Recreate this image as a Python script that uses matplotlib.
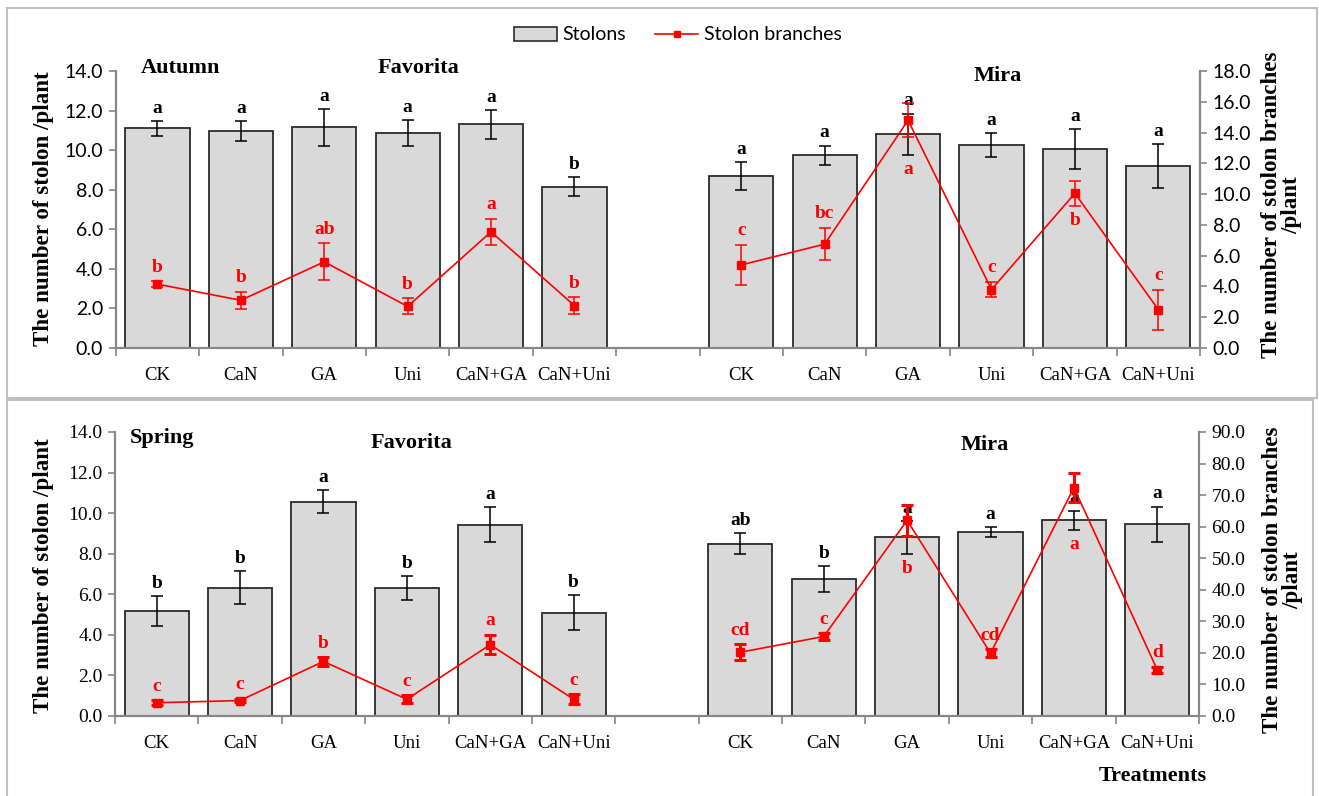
import numpy as np
import matplotlib
matplotlib.use("Agg")
import matplotlib.pyplot as plt
from matplotlib.patches import Patch, Rectangle
from matplotlib.lines import Line2D
from matplotlib.ticker import FormatStrFormatter, FixedLocator

# ---------------- data ----------------
treatments = ['CK', 'CaN', 'GA', 'Uni', 'CaN+GA', 'CaN+Uni']

# Autumn season
autumn_fav_stolons = [11.1, 10.95, 11.15, 10.85, 11.3, 8.15]
autumn_fav_stolons_se = [0.36, 0.5, 0.93, 0.65, 0.74, 0.49]
autumn_fav_stolons_lbl = ['a', 'a', 'a', 'a', 'a', 'b']
autumn_mira_stolons = [8.7, 9.75, 10.8, 10.25, 10.05, 9.2]
autumn_mira_stolons_se = [0.7, 0.48, 1.05, 0.6, 1.0, 1.12]
autumn_mira_stolons_lbl = ['a', 'a', 'a', 'a', 'a', 'a']

autumn_fav_branches = [4.15, 3.1, 5.6, 2.7, 7.55, 2.75]
autumn_fav_branches_se = [0.2, 0.56, 1.2, 0.52, 0.84, 0.54]
autumn_fav_branches_lbl = ['b', 'b', 'ab', 'b', 'a', 'b']
autumn_mira_branches = [5.4, 6.75, 14.8, 3.8, 10.05, 2.5]
autumn_mira_branches_se = [1.3, 1.05, 1.1, 0.5, 0.83, 1.3]
autumn_mira_branches_lbl = ['c', 'bc', 'a', 'c', 'b', 'c']

# Spring season
spring_fav_stolons = [5.17, 6.32, 10.56, 6.32, 9.44, 5.1]
spring_fav_stolons_se = [0.73, 0.81, 0.57, 0.58, 0.84, 0.86]
spring_fav_stolons_lbl = ['b', 'b', 'a', 'b', 'a', 'b']
spring_mira_stolons = [8.5, 6.75, 8.8, 9.05, 9.65, 9.45]
spring_mira_stolons_se = [0.53, 0.66, 0.82, 0.25, 0.48, 0.87]
spring_mira_stolons_lbl = ['ab', 'b', 'a', 'a', 'a', 'a']

spring_fav_branches = [4.2, 4.9, 17.3, 5.3, 22.6, 5.3]
spring_fav_branches_se = [0.75, 0.5, 1.3, 1.3, 3.1, 1.6]
spring_fav_branches_lbl = ['c', 'c', 'b', 'c', 'a', 'c']
spring_mira_branches = [20.2, 25.2, 62.0, 19.9, 72.4, 14.6]
spring_mira_branches_se = [2.5, 1.05, 5.0, 1.2, 4.65, 1.05]
spring_mira_branches_lbl = ['cd', 'c', 'b', 'cd', 'a', 'd']

# where the letter of each branch point goes (above / below the marker)
autumn_mira_side = ['up', 'up', 'down', 'up', 'down', 'up']
spring_mira_side = ['up', 'up', 'down', 'up', 'down', 'up']
fav_side = ['up'] * 6

SERIF = 'Liberation Serif'
SANS = 'Lato'
BAR_COLOR = '#d9d9d9'
BAR_EDGE = '#2b2b2b'
SPINE = '#868686'
RED = '#ff0000'

fig = plt.figure(figsize=(13.19, 7.96), dpi=100)
W, H = 1319.0, 796.0


def px(x, y):
    return x / W, 1 - y / H


def draw_panel(ax, left_max, right_max, right_step, tick_font, line_w,
               fav_bars, fav_bars_se, fav_bars_lbl, mira_bars, mira_bars_se, mira_bars_lbl,
               fav_line, fav_line_se, fav_line_lbl, mira_line, mira_line_se, mira_line_lbl,
               mira_side):
    ax2 = ax.twinx()
    ax.set_zorder(1)
    ax2.set_zorder(2)
    ax.patch.set_visible(False)
    ratio = right_max / left_max

    groups = [
        (np.arange(6), fav_bars, fav_bars_se, fav_bars_lbl, fav_line, fav_line_se, fav_line_lbl, fav_side),
        (np.arange(6) + 7, mira_bars, mira_bars_se, mira_bars_lbl, mira_line, mira_line_se, mira_line_lbl, mira_side),
    ]
    for xs, bars, bse, blbl, line, lse, llbl, side in groups:
        ax.bar(xs, bars, width=0.77, color=BAR_COLOR, edgecolor=BAR_EDGE, linewidth=1.3, zorder=2)
        ax.errorbar(xs, bars, yerr=bse, fmt='none', ecolor='black', elinewidth=1.1,
                    capsize=4, capthick=1.1, zorder=3)
        for x, v, e, t in zip(xs, bars, bse, blbl):
            ax.annotate(t, (x, v + e), xytext=(0, 3), textcoords='offset points',
                        ha='center', va='bottom', fontsize=14, fontweight='bold',
                        family=SERIF, color='black', zorder=5)

        ax2.errorbar(xs, line, yerr=lse, color=RED, linewidth=1.2, marker='s', markersize=5.5,
                     ecolor=RED, elinewidth=line_w, capsize=4, capthick=line_w, zorder=4)
        for x, v, e, t, s, b, be in zip(xs, line, lse, llbl, side, bars, bse):
            if s == 'up':
                ax2.annotate(t, (x, v + e), xytext=(0, 4), textcoords='offset points',
                             ha='center', va='bottom', fontsize=14, fontweight='bold',
                             family=SERIF, color=RED, zorder=5)
            else:
                # keep the letter clear of the bar's own error bar
                anchor = min(v - e, (b - be) * ratio)
                ax2.annotate(t, (x, anchor), xytext=(0, -4), textcoords='offset points',
                             ha='center', va='top', fontsize=14, fontweight='bold',
                             family=SERIF, color=RED, zorder=5)

    ax.set_xlim(-0.5, 12.5)
    ax.set_ylim(0, left_max)
    ax2.set_ylim(0, right_max)
    ax.set_yticks(np.arange(0, left_max + 0.1, 2))
    ax2.set_yticks(np.arange(0, right_max + 0.1, right_step))
    ax.yaxis.set_major_formatter(FormatStrFormatter('%.1f'))
    ax2.yaxis.set_major_formatter(FormatStrFormatter('%.1f'))

    # category boundaries carry the ticks, names sit in between
    ax.xaxis.set_major_locator(FixedLocator(np.arange(-0.5, 13, 1)))
    ax.xaxis.set_major_formatter(plt.NullFormatter())
    centers = list(range(6)) + list(range(7, 13))
    ax.xaxis.set_minor_locator(FixedLocator(centers))
    ax.set_xticklabels(treatments + treatments, minor=True)
    ax.tick_params(axis='x', which='minor', length=0, pad=14, labelsize=13.5)
    ax.tick_params(axis='x', which='major', length=6, width=1.2, color=SPINE, direction='out')
    for lab in ax.get_xticklabels(minor=True):
        lab.set_family(SERIF)

    for a in (ax, ax2):
        a.spines['top'].set_visible(False)
        for sp in ('left', 'right', 'bottom'):
            a.spines[sp].set_color(SPINE)
            a.spines[sp].set_linewidth(1.5)
        a.tick_params(axis='y', length=5, width=1.2, color=SPINE, labelsize=14, pad=4)
        for lab in a.get_yticklabels():
            lab.set_family(tick_font)
    return ax2


# top panel: autumn
ax_top = fig.add_axes([115.7 / W, 448 / H, (1200 - 115.7) / W, 277 / H])
draw_panel(ax_top, 14, 18, 2, SANS, 1.1,
           autumn_fav_stolons, autumn_fav_stolons_se, autumn_fav_stolons_lbl,
           autumn_mira_stolons, autumn_mira_stolons_se, autumn_mira_stolons_lbl,
           autumn_fav_branches, autumn_fav_branches_se, autumn_fav_branches_lbl,
           autumn_mira_branches, autumn_mira_branches_se, autumn_mira_branches_lbl,
           autumn_mira_side)

# bottom panel: spring
ax_bot = fig.add_axes([115.0 / W, 80 / H, (1199 - 115.0) / W, 284 / H])
draw_panel(ax_bot, 14, 90, 10, SERIF, 2.2,
           spring_fav_stolons, spring_fav_stolons_se, spring_fav_stolons_lbl,
           spring_mira_stolons, spring_mira_stolons_se, spring_mira_stolons_lbl,
           spring_fav_branches, spring_fav_branches_se, spring_fav_branches_lbl,
           spring_mira_branches, spring_mira_branches_se, spring_mira_branches_lbl,
           spring_mira_side)

# panel frames
for (x0, y0, x1, y1) in [(7, 8, 1317, 398), (7, 400, 1313, 805)]:
    fig.add_artist(Rectangle((x0 / W, 1 - y1 / H), (x1 - x0) / W, (y1 - y0) / H,
                             transform=fig.transFigure, fill=False,
                             edgecolor='#bfbfbf', linewidth=1.5, clip_on=False))

# headings
bold = dict(fontweight='bold', family=SERIF, ha='center', va='center')
fig.text(*px(180, 68), 'Autumn', fontsize=16, **bold)
fig.text(*px(418, 68), 'Favorita', fontsize=16, **bold)
fig.text(*px(998, 76), 'Mira', fontsize=16, **bold)
fig.text(*px(162, 438), 'Spring', fontsize=16, **bold)
fig.text(*px(411, 443), 'Favorita', fontsize=16, **bold)
fig.text(*px(985, 445), 'Mira', fontsize=16, **bold)
fig.text(*px(1153, 776), 'Treatments', fontsize=16, **bold)

# axis titles
fig.text(*px(44, 209), 'The number of stolon /plant', rotation=90, fontsize=16.6, **bold)
fig.text(*px(44, 576), 'The number of stolon /plant', rotation=90, fontsize=16.6, **bold)
fig.text(*px(1282, 205), 'The number of stolon branches\n/plant', rotation=90,
         fontsize=16.6, linespacing=0.95, multialignment='center', **bold)
fig.text(*px(1283, 580), 'The number of stolon branches\n/plant', rotation=90,
         fontsize=16.6, linespacing=0.95, multialignment='center', **bold)

handles = [Patch(facecolor=BAR_COLOR, edgecolor=BAR_EDGE, linewidth=1.2),
           Line2D([0], [0], color=RED, linewidth=1.2, marker='s', markersize=5)]
fig.legend(handles, ['Stolons', 'Stolon branches'], loc='center',
           bbox_to_anchor=px(678, 35), ncol=2, frameon=False,
           prop={'family': SANS, 'size': 14}, handlelength=2.2,
           handletextpad=0.3, columnspacing=1.5)

fig.savefig('out.png', dpi=100)
